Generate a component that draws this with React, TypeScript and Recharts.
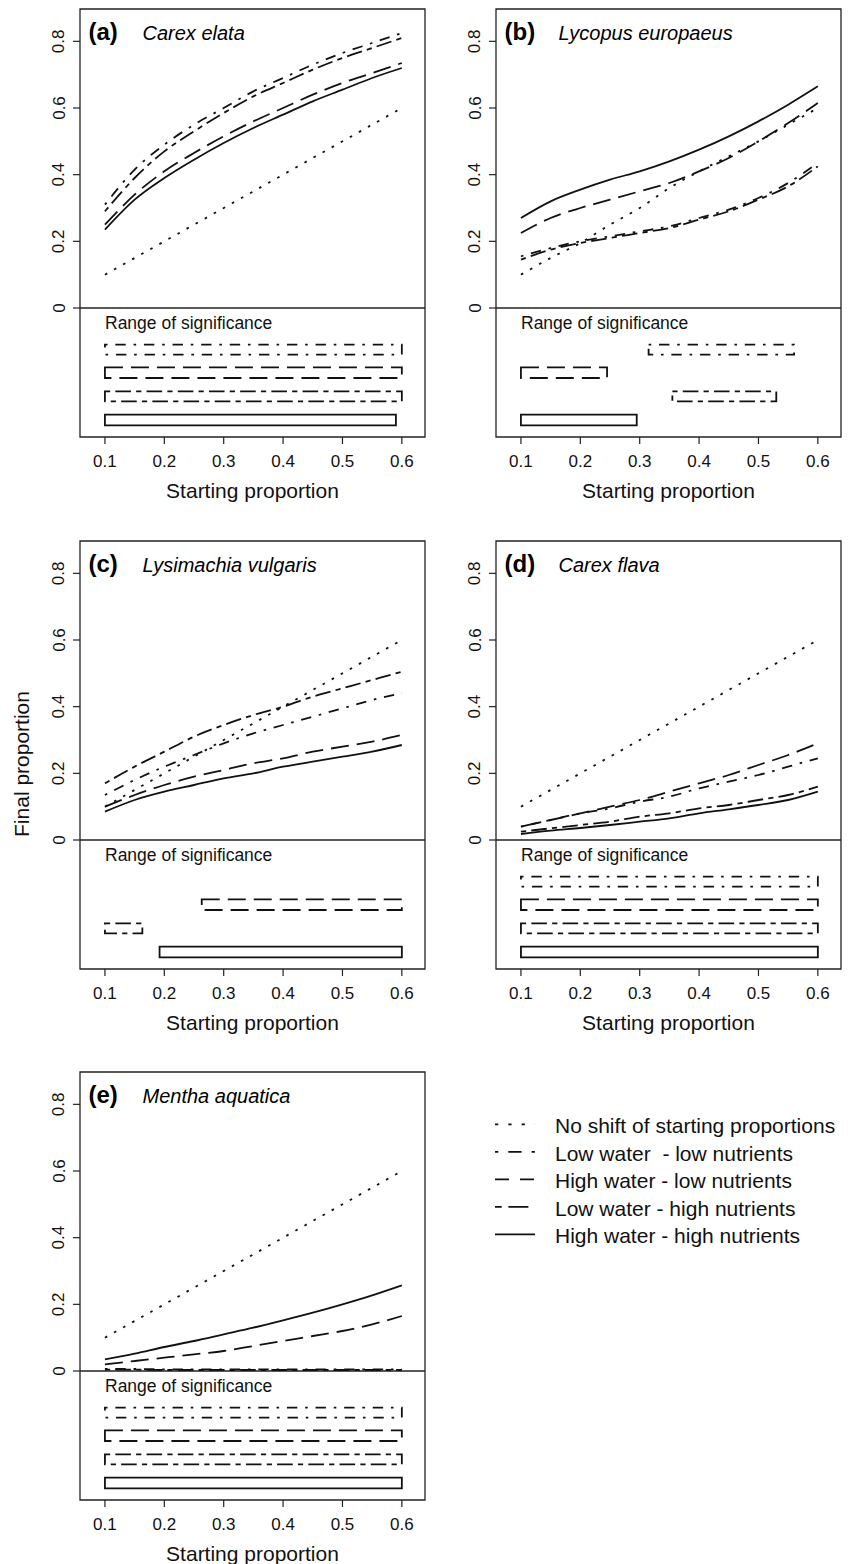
import React from 'react';
import { LineChart, Line, XAxis, YAxis, ReferenceArea, ReferenceLine, Label } from 'recharts';

const FONT = '"Liberation Sans", Arial, Helvetica, sans-serif';

// x values of the fitted curves and axis ticks
const startingProportion = [0.1, 0.15, 0.2, 0.25, 0.3, 0.35, 0.4, 0.45, 0.5, 0.55, 0.6];
const xTicks = [0.1, 0.2, 0.3, 0.4, 0.5, 0.6];
const yTicks = [0, 0.2, 0.4, 0.6, 0.8];

// (a) Carex elata
const elataNoShift = [0.1, 0.15, 0.2, 0.25, 0.3, 0.35, 0.4, 0.45, 0.5, 0.55, 0.6];
const elataLWLN = [0.31, 0.415, 0.49, 0.55, 0.6, 0.65, 0.69, 0.73, 0.765, 0.795, 0.825];
const elataHWLN = [0.25, 0.34, 0.41, 0.465, 0.515, 0.56, 0.6, 0.64, 0.675, 0.705, 0.735];
const elataLWHN = [0.29, 0.39, 0.47, 0.53, 0.585, 0.635, 0.675, 0.715, 0.75, 0.78, 0.81];
const elataHWHN = [0.235, 0.325, 0.39, 0.445, 0.495, 0.54, 0.58, 0.62, 0.655, 0.69, 0.72];
// ranges of significance, order: LWLN, HWLN, LWHN, HWHN
const elataRanges = [[0.1, 0.6], [0.1, 0.6], [0.1, 0.6], [0.1, 0.59]];

// (b) Lycopus europaeus
const lycopusNoShift = [0.1, 0.15, 0.195, 0.25, 0.3, 0.36, 0.41, 0.455, 0.5, 0.55, 0.6];
const lycopusLWLN = [0.155, 0.18, 0.2, 0.215, 0.23, 0.245, 0.27, 0.295, 0.33, 0.375, 0.435];
const lycopusHWLN = [0.225, 0.27, 0.3, 0.325, 0.35, 0.375, 0.41, 0.45, 0.5, 0.555, 0.615];
const lycopusLWHN = [0.145, 0.175, 0.195, 0.21, 0.225, 0.24, 0.265, 0.29, 0.325, 0.365, 0.425];
const lycopusHWHN = [0.27, 0.32, 0.355, 0.385, 0.41, 0.44, 0.475, 0.515, 0.56, 0.61, 0.665];
const lycopusRanges = [[0.315, 0.56], [0.1, 0.245], [0.355, 0.53], [0.1, 0.295]];

// (c) Lysimachia vulgaris
const lysimachiaNoShift = [0.1, 0.15, 0.2, 0.25, 0.3, 0.35, 0.4, 0.45, 0.5, 0.55, 0.6];
const lysimachiaLWLN = [0.135, 0.18, 0.22, 0.255, 0.29, 0.32, 0.345, 0.37, 0.395, 0.42, 0.44];
const lysimachiaHWLN = [0.1, 0.135, 0.165, 0.19, 0.21, 0.23, 0.245, 0.265, 0.28, 0.295, 0.315];
const lysimachiaLWHN = [0.17, 0.22, 0.265, 0.31, 0.345, 0.375, 0.4, 0.43, 0.455, 0.48, 0.505];
const lysimachiaHWHN = [0.085, 0.12, 0.145, 0.165, 0.185, 0.2, 0.22, 0.235, 0.25, 0.265, 0.285];
const lysimachiaRanges = [null, [0.263, 0.6], [0.1, 0.163], [0.192, 0.6]];

// (d) Carex flava
const flavaNoShift = [0.1, 0.15, 0.2, 0.25, 0.3, 0.35, 0.4, 0.45, 0.5, 0.55, 0.6];
const flavaLWLN = [0.04, 0.06, 0.08, 0.095, 0.115, 0.13, 0.155, 0.175, 0.195, 0.22, 0.245];
const flavaHWLN = [0.04, 0.06, 0.08, 0.1, 0.12, 0.145, 0.17, 0.195, 0.225, 0.255, 0.29];
const flavaLWHN = [0.025, 0.035, 0.045, 0.055, 0.07, 0.08, 0.095, 0.105, 0.12, 0.135, 0.16];
const flavaHWHN = [0.018, 0.028, 0.036, 0.045, 0.055, 0.065, 0.08, 0.092, 0.105, 0.12, 0.145];
const flavaRanges = [[0.1, 0.6], [0.1, 0.6], [0.1, 0.6], [0.1, 0.6]];

// (e) Mentha aquatica
const menthaNoShift = [0.1, 0.15, 0.2, 0.25, 0.3, 0.35, 0.4, 0.45, 0.5, 0.55, 0.6];
const menthaLWLN = [0.006, 0.006, 0.005, 0.005, 0.005, 0.005, 0.005, 0.005, 0.005, 0.005, 0.005];
const menthaHWLN = [0.02, 0.03, 0.04, 0.05, 0.06, 0.075, 0.09, 0.105, 0.12, 0.14, 0.165];
const menthaLWHN = [0.004, 0.004, 0.003, 0.003, 0.003, 0.003, 0.003, 0.003, 0.003, 0.003, 0.003];
const menthaHWHN = [0.035, 0.052, 0.072, 0.09, 0.11, 0.13, 0.152, 0.175, 0.2, 0.227, 0.257];
const menthaRanges = [[0.1, 0.6], [0.1, 0.6], [0.1, 0.6], [0.1, 0.6]];

// line types, R style lty 3, 4, 5, 6, 1
const treatments = [
  { key: 'noShift', name: 'No shift of starting proportions', dash: '2.6 7.8', legendDash: '3.3 10' },
  { key: 'lwln', name: 'Low water  - low nutrients', dash: '2.6 7.8 10.4 7.8', legendDash: '3.3 10 13.3 10' },
  { key: 'hwln', name: 'High water - low nutrients', dash: '18 8', legendDash: '14 11' },
  { key: 'lwhn', name: 'Low water - high nutrients', dash: '5.2 5.2 15.6 5.2', legendDash: '6.7 6.7 20 6.7' },
  { key: 'hwhn', name: 'High water - high nutrients', dash: undefined, legendDash: undefined },
];

// vertical band (data units) of each significance rectangle row
const bandRows = [[-0.14, -0.11], [-0.21, -0.178], [-0.28, -0.25], [-0.352, -0.32]];

const X_DOMAIN = [0.058, 0.639];
const Y_DOMAIN = [-0.387, 0.897];

const panels = [
  { tag: '(a)', species: 'Carex elata', lines: [elataNoShift, elataLWLN, elataHWLN, elataLWHN, elataHWHN], ranges: elataRanges, col: 0, row: 0 },
  { tag: '(b)', species: 'Lycopus europaeus', lines: [lycopusNoShift, lycopusLWLN, lycopusHWLN, lycopusLWHN, lycopusHWHN], ranges: lycopusRanges, col: 1, row: 0 },
  { tag: '(c)', species: 'Lysimachia vulgaris', lines: [lysimachiaNoShift, lysimachiaLWLN, lysimachiaHWLN, lysimachiaLWHN, lysimachiaHWHN], ranges: lysimachiaRanges, col: 0, row: 1 },
  { tag: '(d)', species: 'Carex flava', lines: [flavaNoShift, flavaLWLN, flavaHWLN, flavaLWHN, flavaHWHN], ranges: flavaRanges, col: 1, row: 1 },
  { tag: '(e)', species: 'Mentha aquatica', lines: [menthaNoShift, menthaLWLN, menthaHWLN, menthaLWHN, menthaHWHN], ranges: menthaRanges, col: 0, row: 2 },
];

const boxTops = [9, 541, 1072];

const fmtTick = (v: number) => (v === 0 ? '0' : v.toFixed(1));

const YTick = (props: any) => {
  const { x, y, payload } = props;
  return (
    <text x={x} y={y} transform={`rotate(-90 ${x} ${y})`} textAnchor="middle"
      fontSize={17} fill="#111" fontFamily={FONT}>
      {fmtTick(payload.value)}
    </text>
  );
};

const Panel = ({ p, yTitle }: { p: any; yTitle?: boolean }) => {
  const data = startingProportion.map((x, i) => {
    const row: any = { x };
    treatments.forEach((t, j) => { row[t.key] = p.lines[j][i]; });
    return row;
  });
  const left = p.col === 0;
  const margin = left ? { top: 9, right: 3, bottom: 2, left: 40 } : { top: 9, right: 7, bottom: 2, left: 32 };

  const renderTitle = (props: any) => {
    const vb = props.viewBox;
    return (
      <g>
        <text x={vb.x + 8.5} y={vb.y + 31} fontSize={24} fontWeight="bold" fill="#000" fontFamily={FONT}>{p.tag}</text>
        <text x={vb.x + 62.5} y={vb.y + 31} fontSize={20} fontStyle="italic" fill="#000" fontFamily={FONT}>{p.species}</text>
      </g>
    );
  };
  const renderRangeTitle = (props: any) => {
    const vb = props.viewBox;
    return (
      <text x={vb.x + 25} y={vb.y + 20.5} fontSize={17.5} fill="#111" fontFamily={FONT}>Range of significance</text>
    );
  };
  const renderYTitle = (props: any) => {
    const vb = props.viewBox;
    const x = vb.x + vb.width - 51;
    const y = vb.y + vb.height / 2 + 9;
    return (
      <text x={x} y={y} transform={`rotate(-90 ${x} ${y})`} textAnchor="middle" fontSize={21} fill="#111" fontFamily={FONT}>
        Final proportion
      </text>
    );
  };

  return (
    <div style={{ position: 'absolute', left: left ? 0 : 424, top: boxTops[p.row] - 9 }}>
      <LineChart width={left ? 428 : 424} height={503} data={data} margin={margin}>
        <XAxis type="number" dataKey="x" domain={X_DOMAIN} ticks={xTicks} allowDataOverflow interval={0}
          axisLine={false} tickSize={7} tickMargin={10.5} height={64}
          tick={{ fontSize: 17, fill: '#111', fontFamily: FONT }} tickLine={{ stroke: '#222', strokeWidth: 1.2 }}
          tickFormatter={fmtTick}>
          <Label value="Starting proportion" position="insideBottom" offset={3}
            style={{ fontSize: 21, fill: '#111', fontFamily: FONT }} />
        </XAxis>
        <YAxis type="number" domain={Y_DOMAIN} ticks={yTicks} allowDataOverflow interval={0} width={40}
          axisLine={false} tickSize={7} tickMargin={8.5} tick={(props: any) => <YTick {...props} />}
          tickLine={{ stroke: '#222', strokeWidth: 1.2 }}>
          {yTitle ? <Label content={renderYTitle} /> : null}
        </YAxis>
        <ReferenceArea x1={X_DOMAIN[0]} x2={X_DOMAIN[1]} y1={Y_DOMAIN[0]} y2={Y_DOMAIN[1]}
          fill="none" fillOpacity={0} stroke="#222" strokeWidth={1.3} ifOverflow="visible"
          label={renderTitle} />
        <ReferenceLine y={0} stroke="#222" strokeWidth={1.3} label={renderRangeTitle} />
        {p.ranges.map((r: number[] | null, j: number) =>
          r ? (
            <ReferenceArea key={'r' + j} x1={r[0]} x2={r[1]} y1={bandRows[j][0]} y2={bandRows[j][1]}
              fill="none" fillOpacity={0} stroke="#111" strokeWidth={1.8}
              strokeDasharray={treatments[j + 1].dash} ifOverflow="visible" />
          ) : null
        )}
        {treatments.map((t) => (
          <Line key={t.key} type="monotone" dataKey={t.key} name={t.name} stroke="#111" strokeWidth={1.8}
            strokeDasharray={t.dash} dot={false} activeDot={false} isAnimationActive={false} />
        ))}
      </LineChart>
    </div>
  );
};

const LegendBox = () => (
  <svg width={368} height={150} style={{ position: 'absolute', left: 480, top: 1100 }}>
    {treatments.map((t, i) => {
      const y = 24.3 + i * 27.5;
      return (
        <g key={t.key}>
          <line x1={15} x2={55} y1={y} y2={y} stroke="#111" strokeWidth={1.8} strokeDasharray={t.legendDash} />
          <text x={75} y={y + 9} fontSize={21} fill="#111" fontFamily={FONT} style={{ whiteSpace: 'pre' }}>{t.name}</text>
        </g>
      );
    })}
  </svg>
);

export default function App() {
  return (
    <div style={{ position: 'absolute', left: 0, top: 0, width: 848, height: 1564, overflow: 'hidden', background: '#fff', fontFamily: FONT }}>
      {panels.map((p) => (
        <Panel key={p.tag} p={p} yTitle={p.tag === '(c)'} />
      ))}
      <LegendBox />
    </div>
  );
}
